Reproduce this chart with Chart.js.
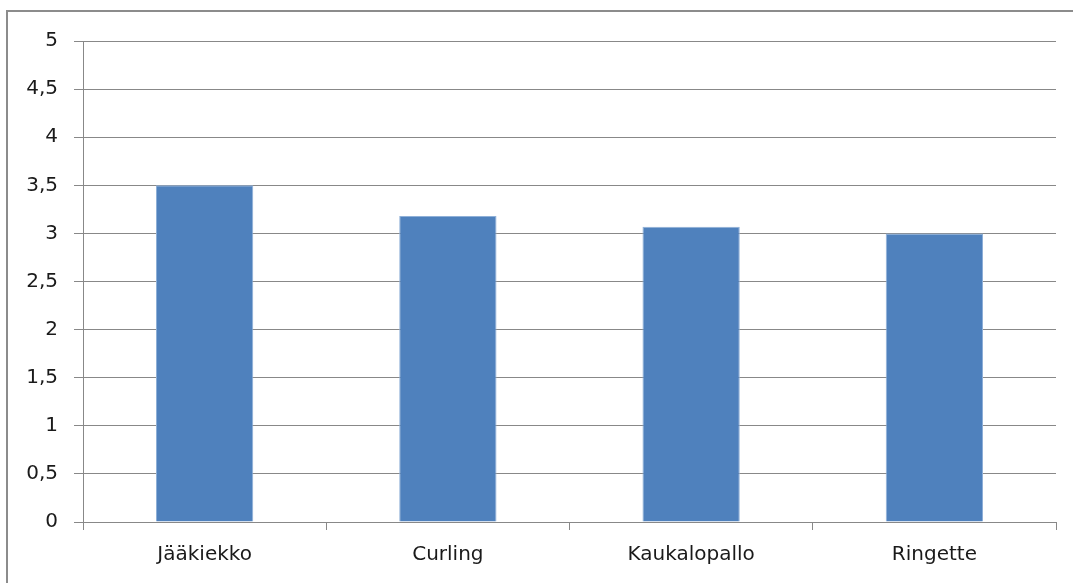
<!DOCTYPE html>
<html>
<head>
<meta charset="utf-8">
<script src="https://cdn.jsdelivr.net/npm/chart.js@4/dist/chart.umd.min.js"></script>
<style>
  html, body { margin: 0; padding: 0; background: #fff; }
  #wrap { width: 1073px; height: 583px; position: relative; }
</style>
</head>
<body>
<div id="wrap"><canvas id="c" width="1073" height="583"></canvas></div>
<script>
// Sports and their average scores
const categories = ['Jääkiekko', 'Curling', 'Kaukalopallo', 'Ringette'];
const scores = [3.5, 3.18, 3.07, 3.0];
const yMin = 0;
const yMax = 5;
const yStep = 0.5;

// Frame lines along the left and top edges of the figure
const framePlugin = {
  id: 'frame',
  beforeDraw(chart) {
    const ctx = chart.ctx;
    ctx.save();
    ctx.strokeStyle = '#8c8c8c';
    ctx.lineWidth = 2;
    ctx.beginPath();
    ctx.moveTo(7, 583);
    ctx.lineTo(7, 11);
    ctx.lineTo(1073, 11);
    ctx.stroke();
    ctx.restore();
  }
};

new Chart(document.getElementById('c'), {
  type: 'bar',
  data: {
    labels: categories,
    datasets: [{
      data: scores,
      backgroundColor: '#4f81bd',
      borderColor: '#8fb0d8',
      borderWidth: 1,
      categoryPercentage: 1.0,
      barPercentage: 0.4
    }]
  },
  options: {
    responsive: false,
    animation: false,
    layout: { padding: { left: 0, right: 17, top: 41, bottom: 0 } },
    plugins: {
      legend: { display: false },
      tooltip: { enabled: false }
    },
    scales: {
      x: {
        offset: true,
        grid: {
          offset: true,
          drawOnChartArea: false,
          drawTicks: true,
          tickLength: 8,
          color: '#888'
        },
        border: { display: true, color: '#888', width: 1 },
        ticks: {
          color: '#1a1a1a',
          padding: 13,
          font: { family: 'DejaVu Sans', size: 20 }
        },
        afterFit(scale) { scale.height = 61; }
      },
      y: {
        min: yMin,
        max: yMax,
        grid: {
          color: '#888',
          tickLength: 9,
          lineWidth: 1
        },
        border: { display: true, color: '#888', width: 1 },
        ticks: {
          stepSize: yStep,
          color: '#1a1a1a',
          padding: 16,
          font: { family: 'DejaVu Sans', size: 20 },
          callback: (v) => String(v).replace('.', ',')
        },
        afterFit(scale) { scale.width = 83; }
      }
    }
  },
  plugins: [framePlugin]
});
</script>
</body>
</html>
